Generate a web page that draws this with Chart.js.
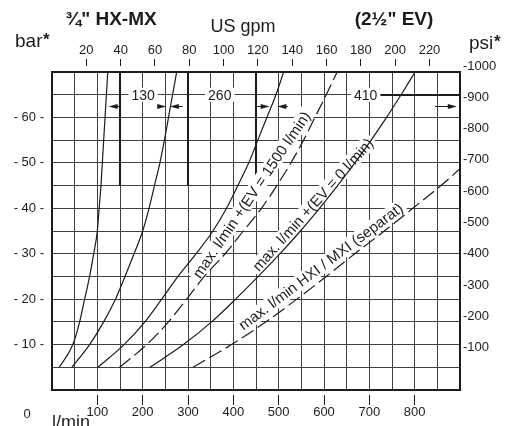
<!DOCTYPE html>
<html>
<head>
<meta charset="utf-8">
<script src="https://cdn.jsdelivr.net/npm/chart.js@4.4.0/dist/chart.umd.min.js"></script>
<style>
  html, body { margin: 0; padding: 0; background: #fff; }
  canvas { display: block; }
</style>
</head>
<body>
<canvas id="chart" width="516" height="426"></canvas>
<script>
// --- values (flow in l/min at each pressure step in bar) ---
const barLevels = [5, 10, 15, 20, 25, 30, 35, 40, 45, 50, 55, 60, 65, 70];
const flowCurveA = [16, 46, 61, 72, 83, 92, 100, 104, 108, 111, 114, 117, 120, 123];
const flowCurveB = [44, 83, 114, 140, 161, 181, 200, 214, 226, 238, 248, 257, 266, 275];
const flowEv1500 = [101, 159, 205, 242, 278, 318, 355, 385, 410, 434, 454, 474, 494, 511];
const flowEv1500Dash = [149, 209, 257, 297, 336, 382, 422, 462, 496, 527, 555, 580, 605, 629];
const flowEv0 = [216, 290, 352, 405, 455, 503, 548, 590, 630, 668, 704, 738, 770, 801];
const separatLevels = [5, 10, 15, 20, 25, 30, 35, 40, 45, 48.7];
const flowSeparat = [311, 396, 472, 540, 605, 668, 733, 796, 858, 900];

// tick labels
const lpmTicks = [100, 200, 300, 400, 500, 600, 700, 800];
const gpmTicks = [20, 40, 60, 80, 100, 120, 140, 160, 180, 200, 220];
const barTicks = [10, 20, 30, 40, 50, 60];
const psiTicks = [100, 200, 300, 400, 500, 600, 700, 800, 900, 1000];

const LPM_PER_GPM = 3.785;
const FONT = '"Liberation Sans", Arial, sans-serif';
const INK = '#1c1c1c';
const GRID = '#404040';

Chart.defaults.font.family = FONT;
Chart.defaults.color = INK;

const toPoints = (levels, flows) => flows.map((q, i) => ({ x: q, y: levels[i] }));

// annotations in data space (l/min, bar)
const spanNotes = [
  { text: '130', q: 201, bar: 65 },
  { text: '260', q: 370, bar: 65 },
  { text: '410', q: 692, bar: 65 }
];
const spanArrows = [[150, 125], [233, 252], [288, 260], [450, 480], [520, 497], [845, 893]];
const curveNotes = [
  { text: 'max. l/min +(EV = 1500 l/min)', q: 440, bar: 43.0, angle: 55.9 },
  { text: 'max. l/min +(EV = 0 l/min)', q: 575, bar: 40.8, angle: 48.1 },
  { text: 'max. l/min HXI / MXI (separat)', q: 593, bar: 27.2, angle: 36.9 }
];

const diagramNotes = {
  id: 'diagramNotes',
  beforeDatasetsDraw(chart) {
    const { ctx, scales: { x, y } } = chart;
    ctx.save();
    ctx.strokeStyle = INK;
    ctx.fillStyle = INK;

    // heavier rulings of the span brackets
    ctx.lineWidth = 2;
    [150, 300, 450].forEach(q => {
      const px = Math.round(x.getPixelForValue(q));
      ctx.beginPath();
      ctx.moveTo(px, y.getPixelForValue(45));
      ctx.lineTo(px, y.getPixelForValue(70));
      ctx.stroke();
    });
    ctx.beginPath();
    ctx.moveTo(x.getPixelForValue(715), Math.round(y.getPixelForValue(65)));
    ctx.lineTo(x.getPixelForValue(900), Math.round(y.getPixelForValue(65)));
    ctx.stroke();

    // span values on the 65 bar line
    ctx.font = '14px ' + FONT;
    ctx.textAlign = 'center';
    ctx.textBaseline = 'middle';
    spanNotes.forEach(n => {
      const px = x.getPixelForValue(n.q), py = y.getPixelForValue(n.bar);
      const w = ctx.measureText(n.text).width + 6;
      ctx.fillStyle = '#fff';
      ctx.fillRect(px - w / 2, py - 7, w, 14);
      ctx.fillStyle = INK;
      ctx.fillText(n.text, px, py + 1);
    });

    // small arrows at 62.5 bar
    const ay = Math.round(y.getPixelForValue(62.5)) + 0.5;
    ctx.lineWidth = 1;
    spanArrows.forEach(([from, to]) => {
      const x0 = x.getPixelForValue(from), x1 = x.getPixelForValue(to);
      const dir = Math.sign(x1 - x0);
      ctx.beginPath();
      ctx.moveTo(x0, ay);
      ctx.lineTo(x1 - dir * 6, ay);
      ctx.stroke();
      ctx.beginPath();
      ctx.moveTo(x1, ay);
      ctx.lineTo(x1 - dir * 9, ay - 2.5);
      ctx.lineTo(x1 - dir * 9, ay + 2.5);
      ctx.closePath();
      ctx.fill();
    });

    // names written along the curves
    ctx.font = '15px ' + FONT;
    curveNotes.forEach(n => {
      ctx.save();
      ctx.translate(x.getPixelForValue(n.q), y.getPixelForValue(n.bar));
      ctx.rotate(-n.angle * Math.PI / 180);
      const w = ctx.measureText(n.text).width;
      ctx.fillStyle = '#fff';
      ctx.fillRect(-w / 2 - 3, -8, w + 6, 16);
      ctx.fillStyle = INK;
      ctx.fillText(n.text, 0, 1);
      ctx.restore();
    });
    ctx.restore();
  },
  afterDraw(chart) {
    const ctx = chart.ctx;
    ctx.save();
    ctx.fillStyle = INK;
    ctx.textBaseline = 'alphabetic';

    ctx.textAlign = 'center';
    ctx.font = 'bold 19px ' + FONT;
    ctx.fillText('¾" HX-MX', 111, 25);
    ctx.fillText('(2½" EV)', 394, 25);
    ctx.font = '18px ' + FONT;
    ctx.fillText('US gpm', 243, 32);

    ctx.textAlign = 'left';
    ctx.font = '19px ' + FONT;
    ctx.fillText('bar', 15, 47);
    ctx.fillText('psi', 469, 49);
    ctx.font = 'bold 17px ' + FONT;
    ctx.fillText('*', 43, 45);
    ctx.fillText('*', 494, 47);

    ctx.font = '13px ' + FONT;
    ctx.textAlign = 'center';
    ctx.fillText('0', 27, 418);
    ctx.textAlign = 'left';
    ctx.font = '18px ' + FONT;
    ctx.fillText('l/min', 52, 428);
    ctx.restore();
  }
};

const curve = (levels, flows, dashed) => ({
  data: toPoints(levels, flows),
  showLine: true,
  borderColor: INK,
  borderWidth: 1.2,
  borderDash: dashed ? [14, 5] : [],
  pointRadius: 0,
  cubicInterpolationMode: 'monotone',
  xAxisID: 'x',
  yAxisID: 'y'
});

new Chart(document.getElementById('chart'), {
  type: 'scatter',
  data: {
    datasets: [
      curve(barLevels, flowCurveA, false),
      curve(barLevels, flowCurveB, false),
      curve(barLevels, flowEv1500, false),
      curve(barLevels, flowEv1500Dash, true),
      curve(barLevels, flowEv0, false),
      curve(separatLevels, flowSeparat, true)
    ]
  },
  options: {
    responsive: false,
    animation: false,
    layout: { padding: 0 },
    plugins: { legend: { display: false }, tooltip: { enabled: false } },
    scales: {
      x: {
        type: 'linear', position: 'bottom', min: 0, max: 900, weight: 0,
        ticks: { display: false, stepSize: 50 },
        grid: { color: GRID, lineWidth: 1, tickLength: 5, tickColor: 'rgba(0,0,0,0)' },
        border: { color: INK, width: 2 }
      },
      xLpm: {
        type: 'linear', position: 'bottom', min: 0, max: 900, weight: 1,
        afterBuildTicks: s => { s.ticks = lpmTicks.map(v => ({ value: v })); },
        ticks: { font: { size: 13 }, padding: 0, maxRotation: 0, autoSkip: false },
        grid: { drawOnChartArea: false, tickLength: 10, tickColor: INK, tickWidth: 1 },
        border: { display: false },
        afterFit: s => { s.height = 31; }
      },
      xTopGap: {
        type: 'linear', position: 'top', min: 0, max: 900, weight: 0,
        ticks: { display: false, stepSize: 50 },
        grid: { drawOnChartArea: false, tickLength: 6, tickColor: 'rgba(0,0,0,0)' },
        border: { color: INK, width: 2 }
      },
      xGpm: {
        type: 'linear', position: 'top', min: 0, max: 900 / LPM_PER_GPM, weight: 1,
        afterBuildTicks: s => { s.ticks = gpmTicks.map(v => ({ value: v })); },
        ticks: { font: { size: 13 }, padding: 1, maxRotation: 0, autoSkip: false },
        grid: { drawOnChartArea: false, tickLength: 7, tickColor: INK, tickWidth: 1 },
        border: { display: false },
        afterFit: s => { s.height = 66; }
      },
      y: {
        type: 'linear', position: 'left', min: 0, max: 70,
        ticks: {
          stepSize: 5, padding: 8, font: { size: 13 },
          callback: v => barTicks.includes(v) ? '- ' + v + ' -' : ''
        },
        grid: { color: GRID, lineWidth: 1, drawTicks: false },
        border: { color: INK, width: 2 },
        afterFit: s => { s.width = 52; }
      },
      yPsi: {
        type: 'linear', position: 'right', min: -36, max: 981,
        afterBuildTicks: s => { s.ticks = psiTicks.map(v => ({ value: v })); },
        ticks: { padding: 3, font: { size: 13 }, autoSkip: false, callback: v => '-' + v },
        grid: { drawOnChartArea: false, drawTicks: false },
        border: { color: INK, width: 2 },
        afterFit: s => { s.width = 56; }
      }
    }
  },
  plugins: [diagramNotes]
});
</script>
</body>
</html>
